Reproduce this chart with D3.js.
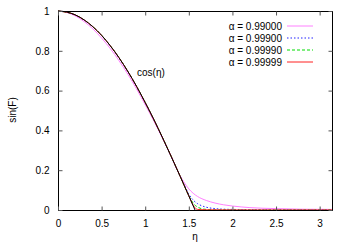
<!DOCTYPE html>
<html><head><meta charset="utf-8">
<script src="https://cdn.jsdelivr.net/npm/d3@7"></script>
<style>body{margin:0;background:#fff}svg{display:block}text{font-family:"Liberation Sans",Arial,sans-serif;font-size:10px;fill:#000}</style>
</head><body><svg id="c" width="346" height="242"></svg>
<script>
const xTicks = [0, 0.5, 1, 1.5, 2, 2.5, 3];
const yTicks = [0, 0.2, 0.4, 0.6, 0.8, 1];
const legendLabels = ["α = 0.99000", "α = 0.99900", "α = 0.99990", "α = 0.99999"];
const etaCos = [0, 0.1, 0.2, 0.3, 0.4, 0.5, 0.6, 0.7, 0.8, 0.9, 1.0, 1.1, 1.2, 1.3, 1.4, 1.5, 1.5708];
const valCos = [1, 0.995, 0.980, 0.955, 0.921, 0.878, 0.825, 0.765, 0.697, 0.622, 0.540, 0.454, 0.362, 0.267, 0.170, 0.071, 0];
const eta1 = [0, 0.1, 0.2, 0.3, 0.4, 0.5, 0.6, 0.7, 0.8, 0.9, 1.0, 1.1, 1.2, 1.3, 1.4, 1.45, 1.5, 1.55, 1.6, 1.7, 1.8, 1.9, 2.0, 2.2, 2.5, 2.8, 3.1416];
const val1 = [1, 0.993, 0.975, 0.947, 0.910, 0.864, 0.811, 0.750, 0.683, 0.609, 0.529, 0.446, 0.358, 0.268, 0.172, 0.136, 0.106, 0.084, 0.068, 0.048, 0.035, 0.026, 0.020, 0.012, 0.007, 0.004, 0.003];
const eta2 = [0, 0.2, 0.4, 0.6, 0.8, 1.0, 1.2, 1.3, 1.4, 1.45, 1.5, 1.55, 1.6, 1.65, 1.7, 1.8, 1.9, 2.0, 2.5, 3.1416];
const val2 = [1, 0.979, 0.920, 0.824, 0.696, 0.539, 0.361, 0.266, 0.170, 0.124, 0.080, 0.050, 0.032, 0.021, 0.014, 0.007, 0.004, 0.003, 0.001, 0.0005];
const eta3 = [0, 0.2, 0.4, 0.6, 0.8, 1.0, 1.2, 1.4, 1.5, 1.55, 1.6, 1.65, 1.7, 1.8, 2.0, 3.1416];
const val3 = [1, 0.980, 0.921, 0.825, 0.697, 0.540, 0.362, 0.170, 0.072, 0.034, 0.015, 0.006, 0.003, 0.001, 0.0003, 0];
const eta4 = [0, 0.2, 0.4, 0.6, 0.8, 1.0, 1.2, 1.4, 1.5, 1.55, 1.58, 1.6, 1.7, 2.0, 3.1416];
const val4 = [1, 0.980, 0.921, 0.825, 0.697, 0.540, 0.362, 0.170, 0.071, 0.024, 0.007, 0.003, 0.001, 0.0003, 0];

const svg = d3.select("#c");
const L = 58, R = 332, T = 11, B = 210;
const x = d3.scaleLinear().domain([0, Math.PI]).range([L, R]);
const y = d3.scaleLinear().domain([0, 1]).range([B, T]);

const series = [
  {e: eta1, v: val1, color: "#ff80ff", dash: null, w: 1},
  {e: eta2, v: val2, color: "#2222ff", dash: "1.5,2", w: 1},
  {e: eta3, v: val3, color: "#00dd00", dash: "3,2", w: 1},
  {e: eta4, v: val4, color: "#ff2020", dash: null, w: 1}
];
const line = d3.line().x(d => x(d[0])).y(d => y(d[1])).curve(d3.curveMonotoneX);
const g = svg.append("g");
series.forEach(s => {
  g.append("path").datum(s.e.map((e, i) => [e, s.v[i]]))
    .attr("d", line).attr("fill", "none").attr("stroke", s.color)
    .attr("stroke-width", s.w).attr("stroke-dasharray", s.dash);
});
g.append("path").datum(etaCos.map((e, i) => [e, valCos[i]]))
  .attr("d", line).attr("fill", "none").attr("stroke", "#000").attr("stroke-width", 1);

// axes (gnuplot style, inward mirrored ticks)
const ax = svg.append("g");
ax.append("rect").attr("x", L + 0.5).attr("y", T + 0.5).attr("width", R - L).attr("height", B - T)
  .attr("fill", "none").attr("stroke", "#000").attr("stroke-width", 1);
const axB = ax.append("g").attr("transform", `translate(0,${B + 0.5})`)
  .call(d3.axisBottom(x).tickValues(xTicks).tickSize(-4).tickPadding(9).tickFormat(d3.format("")));
const axT = ax.append("g").attr("transform", `translate(0,${T + 0.5})`)
  .call(d3.axisTop(x).tickValues(xTicks).tickSize(-4).tickFormat(""));
const axL = ax.append("g").attr("transform", `translate(${L + 0.5},0)`)
  .call(d3.axisLeft(y).tickValues(yTicks).tickSize(-4).tickPadding(9).tickFormat(d3.format("")));
const axR = ax.append("g").attr("transform", `translate(${R + 0.5},0)`)
  .call(d3.axisRight(y).tickValues(yTicks).tickSize(-4).tickFormat(""));
[axB, axT, axL, axR].forEach(a => {
  a.select(".domain").remove();
  a.selectAll(".tick line").attr("stroke", "#555");
  a.selectAll("text").attr("font-size", 10).attr("font-family", "Liberation Sans, Arial, sans-serif").attr("fill", "#000");
});

svg.append("text").attr("x", 195).attr("y", 240).attr("text-anchor", "middle").text("η");
svg.append("text").attr("transform", "translate(16,110) rotate(-90)").attr("text-anchor", "middle").text("sin(F)");
svg.append("text").attr("x", 137).attr("y", 76).text("cos(η)");

const leg = svg.append("g");
legendLabels.forEach((lab, i) => {
  const yy = 26 + i * 12;
  leg.append("text").attr("x", 282).attr("y", yy + 3.5).attr("text-anchor", "end").text(lab);
  leg.append("line").attr("x1", 287).attr("x2", 313).attr("y1", yy).attr("y2", yy)
    .attr("stroke", series[i].color).attr("stroke-width", 1).attr("stroke-dasharray", series[i].dash);
});
</script></body></html>
